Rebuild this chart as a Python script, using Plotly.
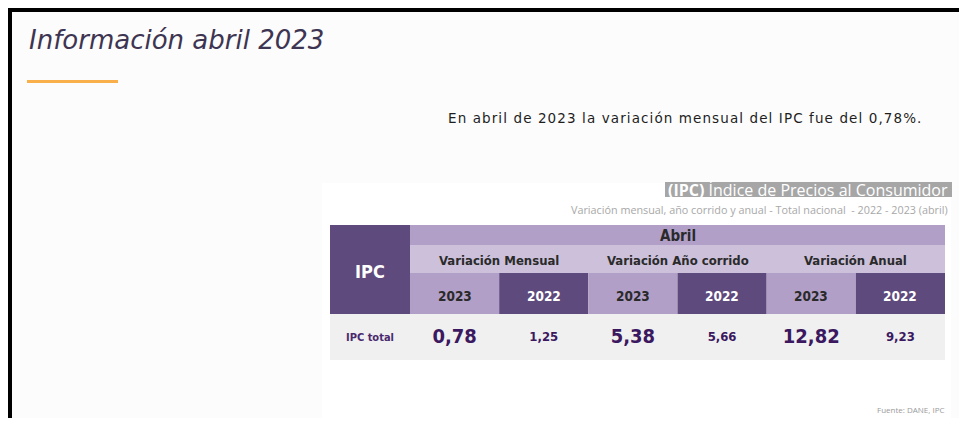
import plotly.graph_objects as go

# ---- data ----
title = "Información abril 2023"
sentence = "En abril de 2023 la variación mensual del IPC fue del 0,78%."
box_title_bold = "(IPC)"
box_title_rest = " Índice de Precios al Consumidor"
subtitle = "Variación mensual, año corrido y anual - Total nacional  - 2022 - 2023 (abril)"
source = "Fuente: DANE, IPC"
month = "Abril"
row_label = "IPC total"
groups = ["Variación Mensual", "Variación Año corrido", "Variación Anual"]
years = ["2023", "2022"]
values_2023 = [0.78, 5.38, 12.82]
values_2022 = [1.25, 5.66, 9.23]

# ---- styles ----
PAGE_W, PAGE_H = 967, 426
OFF = 8  # default page body margin
FIG_W, FIG_H = PAGE_W - 2 * OFF, PAGE_H - 2 * OFF
X_END, Y_END = OFF + FIG_W, OFF + FIG_H
DARK = "#5e4a7c"
MED = "#b19fc8"
LIGHT = "#ccc0db"
ROWBG = "#f0f0f0"
VALCOL = "#3b1860"
COND = "'DejaVu Sans Condensed', 'DejaVu Sans', sans-serif"

def cond(s, bold=True):
    inner = f"<span style='font-stretch:condensed'>{s}</span>"
    return f"<b>{inner}</b>" if bold else inner

# table geometry (layout)
tx0, tx1 = 330, 945
col0 = 410
ncol = len(groups) * len(years)
cw = (tx1 - col0) / ncol
y_top, y_g, y_y, y_d, y_bot = 225, 245, 273, 314, 360

fig = go.Figure()
shapes = []
ann = []

def rect(x0, y0, x1, y1, color):
    shapes.append(dict(type="rect", xref="x", yref="y", x0=x0, y0=y0, x1=x1, y1=y1,
                       fillcolor=color, line=dict(width=0), layer="below"))

# black frame
rect(OFF, OFF, X_END, 12, "black")
rect(OFF, OFF, 12, Y_END, "black")
# orange rule
rect(27, 80, 118, 83, "#f9b04a")
# white panel
rect(322, 183, 951, 418, "#ffffff")
# gray title box
rect(665, 182, 952, 197, "#a6a6a6")

# table cells
rect(tx0, y_top, col0, y_d, DARK)
rect(col0, y_top, tx1, y_g, MED)
rect(col0, y_g, tx1, y_y, LIGHT)
for i in range(ncol):
    rect(col0 + i * cw, y_y, col0 + (i + 1) * cw, y_d, MED if i % 2 == 0 else DARK)
rect(tx0, y_d, tx1, y_bot, ROWBG)

def text(x, y, s, size, color, family=COND, xanchor="center", italic=False):
    ann.append(dict(x=x, y=y, xref="x", yref="y", text=s,
                    showarrow=False, xanchor=xanchor, yanchor="middle",
                    font=dict(size=size, color=color, family=family,
                              style="italic" if italic else "normal")))

text(27, 40, title, 26, "#3e3552", family="'DejaVu Sans', sans-serif", xanchor="left", italic=True)
text(446, 118, f"<span style='letter-spacing:1.1px'>{sentence}</span>", 13.5, "#1e1e1e",
     family="'DejaVu Sans', sans-serif", xanchor="left")
text(950, 189.5, f"<b>{box_title_bold}</b>{box_title_rest}", 16, "#ffffff",
     family="'Open Sans', sans-serif", xanchor="right")
text(950, 209, subtitle, 10.8, "#a8a8a8", family="'Open Sans', sans-serif", xanchor="right")
text(947, 409, source, 8, "#9a9a9a", family="'Open Sans', sans-serif", xanchor="right")

text((tx0 + col0) / 2, 271, cond("IPC"), 18, "#ffffff")
text((col0 + tx1) / 2, (y_top + y_g) / 2 + 1, cond(month), 15, "#2a2a2a")
for g, name in enumerate(groups):
    cx = col0 + (2 * g + 1) * cw
    text(cx, (y_g + y_y) / 2 + 1, cond(name), 13, "#2a2a2a")
    for k, yr in enumerate(years):
        text(col0 + (2 * g + k + 0.5) * cw, (y_y + y_d) / 2 + 2, cond(yr), 13.5,
             "#2a2a2a" if k == 0 else "#ffffff")
text((tx0 + col0) / 2, (y_d + y_bot) / 2, cond(row_label), 11, "#4a2a6e")

def fmt(v):
    return f"{v:.2f}".replace(".", ",")

# values via library scale
xs23 = [col0 + (2 * g + 0.5) * cw for g in range(len(groups))]
xs22 = [col0 + (2 * g + 1.5) * cw for g in range(len(groups))]
ymid = (y_d + y_bot) / 2 + 1
fig.add_trace(go.Scatter(x=xs23, y=[ymid] * len(values_2023), mode="text",
                         text=[cond(fmt(v)) for v in values_2023],
                         textfont=dict(size=20, color=VALCOL, family=COND),
                         textposition="middle center", hoverinfo="skip", showlegend=False))
fig.add_trace(go.Scatter(x=xs22, y=[ymid] * len(values_2022), mode="text",
                         text=[cond(fmt(v)) for v in values_2022],
                         textfont=dict(size=13, color=VALCOL, family=COND),
                         textposition="middle center", hoverinfo="skip", showlegend=False))

fig.update_layout(
    width=FIG_W, height=FIG_H, margin=dict(l=0, r=0, t=0, b=0),
    paper_bgcolor="#fcfcfc", plot_bgcolor="#fcfcfc",
    xaxis=dict(range=[OFF, X_END], visible=False, fixedrange=True),
    yaxis=dict(range=[Y_END, OFF], visible=False, fixedrange=True),
    shapes=shapes, annotations=ann,
)
fig.write_html("out.html")
